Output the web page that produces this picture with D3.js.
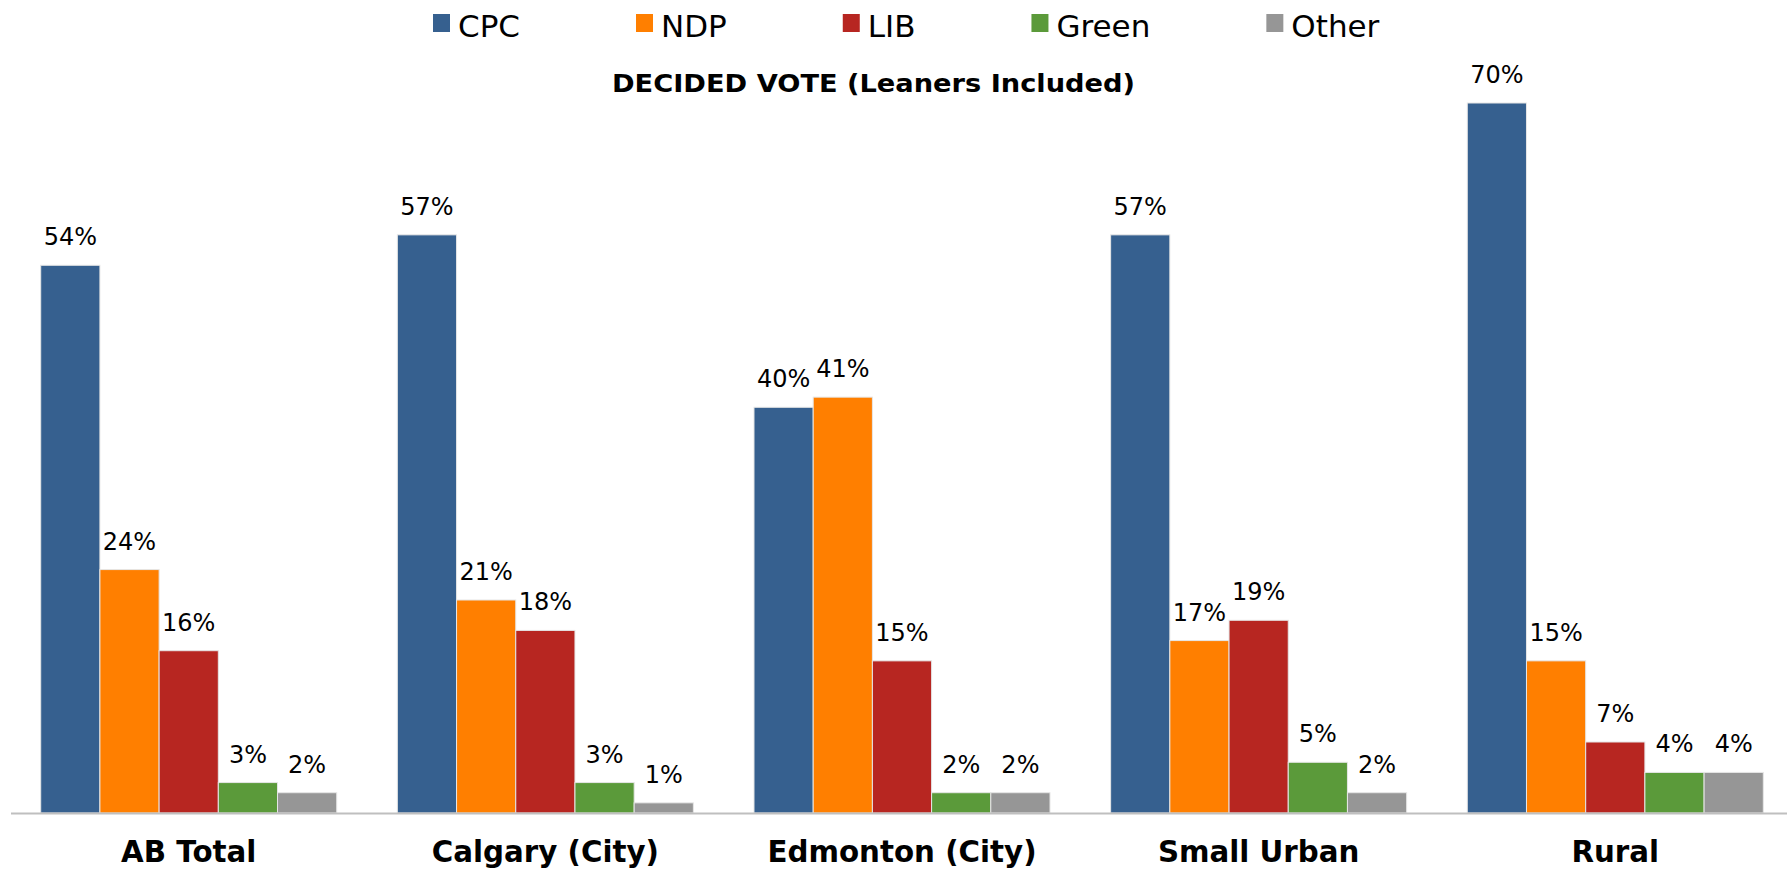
<!DOCTYPE html>
<html>
<head>
<meta charset="utf-8">
<script src="https://cdn.jsdelivr.net/npm/d3@7"></script>
<style>
  body{margin:0;background:#fff;}
  #viz-container{width:1787px;height:869px;}
  text{font-family:"DejaVu Sans",Verdana,sans-serif;}
</style>
</head>
<body>
<div id="viz-container"></div>
<script>
// data
let regions = ["AB Total","Calgary (City)","Edmonton (City)","Small Urban","Rural"];
let parties = ["CPC","NDP","LIB","Green","Other"];
let cpc   = [54,57,40,57,70];
let ndp   = [24,21,41,17,15];
let lib   = [16,18,15,19,7];
let green = [3,3,2,5,4];
let other = [2,1,2,2,4];
let partyColors = ["#36608f","#ff7f00","#b72621","#5b9a3a","#969696"];

let seriesValues = [cpc,ndp,lib,green,other];

//create canvas
let viz = d3.select("#viz-container")
    .append("svg")
    .attr("id","viz")
    .attr("width",1787)
    .attr("height",869)
;

let baseline = 813;

// scales
let xScale = d3.scaleBand()
    .domain(regions)
    .range([11,1793])
    .paddingInner(0.17)
    .paddingOuter(0.0833)
;

let xParty = d3.scaleBand()
    .domain(parties)
    .range([0,xScale.bandwidth()])
    .padding(0)
;

let yScale = d3.scaleLinear()
    .domain([0,70])
    .range([baseline,103])
;

let colorScale = d3.scaleOrdinal()
    .domain(parties)
    .range(partyColors)
;

// flatten into one row per bar
let rows = [];
regions.forEach(function(r,i){
  parties.forEach(function(p,j){
    rows.push({region:r, party:p, value:seriesValues[j][i]});
  });
});

function barX(d){
  return xScale(d.region)+xParty(d.party);
}

// bars
let datagroups = viz.selectAll(".datagroup").data(rows).enter()
    .append("g")
      .attr("class","datagroup")
;

datagroups.append("rect")
  .attr("x",barX)
  .attr("y",function(d){ return yScale(d.value); })
  .attr("width",xParty.bandwidth())
  .attr("height",function(d){ return baseline-yScale(d.value); })
  .attr("fill",function(d){ return colorScale(d.party); })
  .attr("stroke","#e6e6e6")
  .attr("stroke-width",1)
;

datagroups.append("text")
  .attr("x",function(d){ return barX(d)+xParty.bandwidth()/2; })
  .attr("y",function(d){ return yScale(d.value)-20; })
  .attr("text-anchor","middle")
  .attr("font-size",24)
  .attr("fill","#000")
  .text(function(d){ return d.value+"%"; })
;

// x axis
let xAxis = d3.axisBottom(xScale).tickSize(0).tickPadding(0);
let xAxisGroup = viz.append("g")
    .attr("class","xaxis")
    .attr("transform","translate(0,"+baseline+")")
    .call(xAxis)
;
xAxisGroup.select(".domain")
  .attr("d","M11,0.5H1787")
  .attr("stroke","#bfbfbf")
  .attr("stroke-width",2)
;
xAxisGroup.selectAll(".tick text")
  .attr("y",49)
  .attr("dy",0)
  .attr("font-family","DejaVu Sans")
  .attr("font-weight","bold")
  .attr("font-size",29.3)
  .attr("fill","#000")
;

// title
viz.append("text")
  .attr("x",612)
  .attr("y",92)
  .attr("font-size",24)
  .attr("font-weight","bold")
  .attr("fill","#000")
  .attr("textLength",523)
  .attr("lengthAdjust","spacingAndGlyphs")
  .text("DECIDED VOTE (Leaners Included)")
;

// legend
let legend = viz.append("g").attr("class","legend");
let lx = 433;
parties.forEach(function(p){
  let item = legend.append("g").attr("transform","translate("+lx+",0)");
  item.append("rect")
    .attr("x",0)
    .attr("y",14)
    .attr("width",17)
    .attr("height",18)
    .attr("fill",colorScale(p))
  ;
  let t = item.append("text")
    .attr("x",25)
    .attr("y",37)
    .attr("font-size",31)
    .attr("fill","#000")
    .text(p)
  ;
  lx = lx+25+t.node().getComputedTextLength()+116;
});
</script>
</body>
</html>
